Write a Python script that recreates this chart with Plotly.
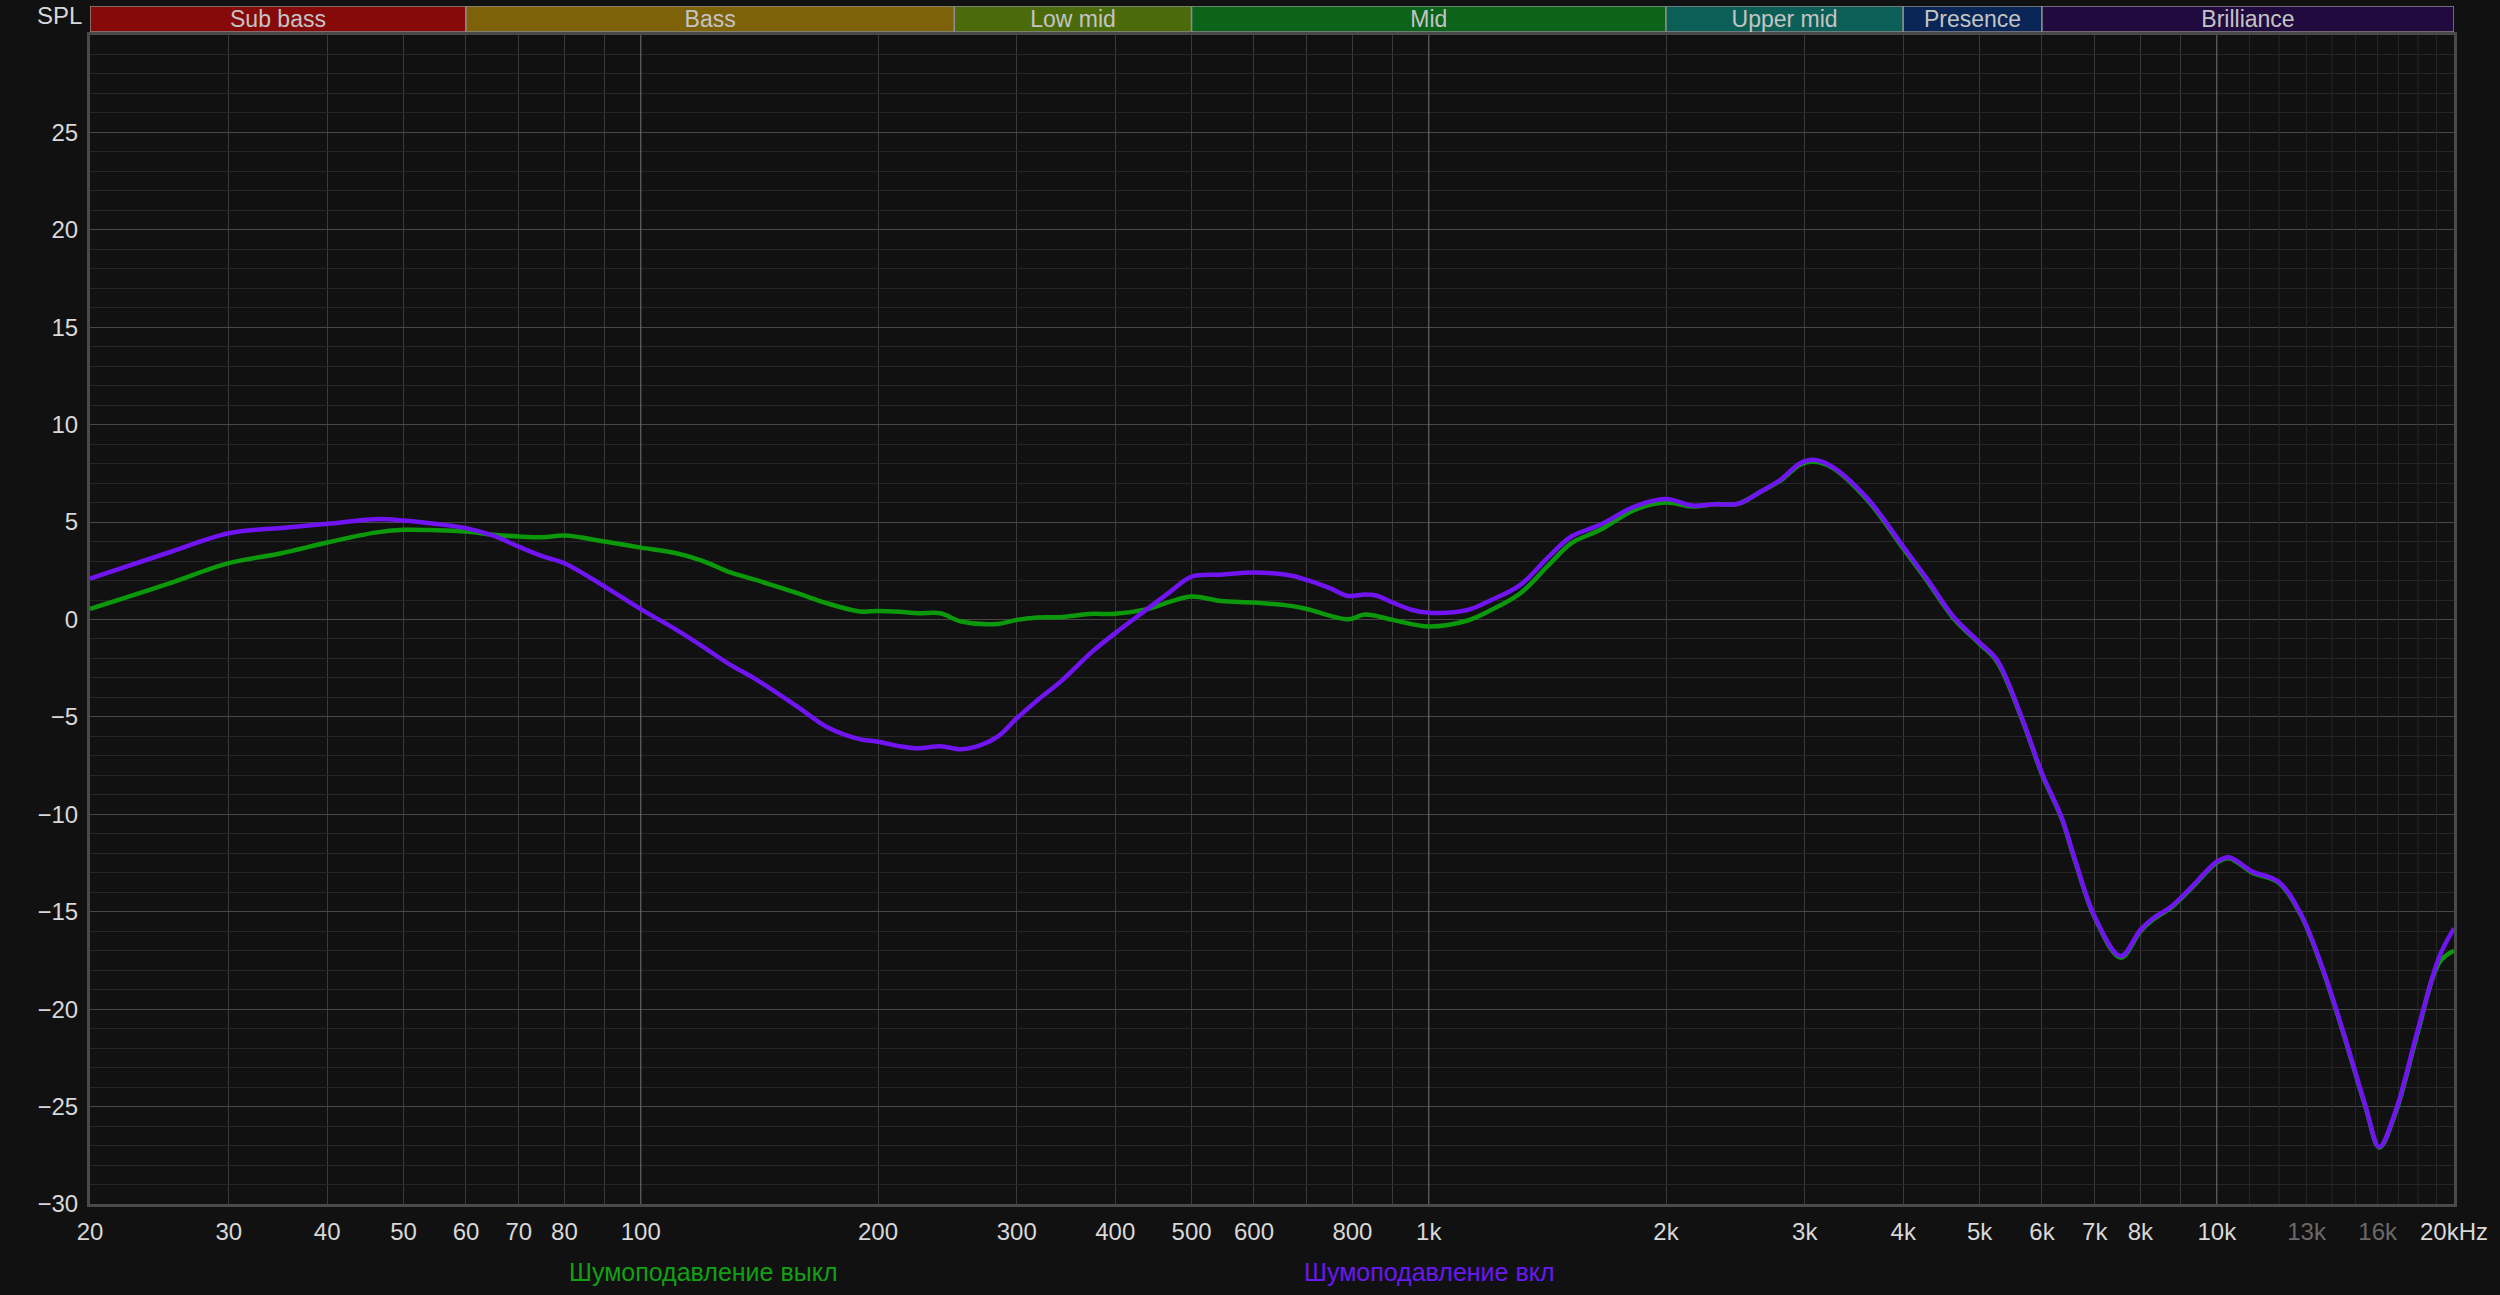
import numpy as np
import plotly.graph_objects as go

# ---------------- data ----------------
freq_on = [20, 25, 30, 35, 40, 46, 50, 55, 60, 65, 70, 75, 80, 90, 100, 111, 120, 129, 140, 158, 172,
           190, 200, 213, 225, 240, 255, 270, 284, 300, 319, 341, 374, 400, 439, 470, 500, 545, 600,
           668, 700, 750, 790, 830, 859, 900, 950, 1000, 1120, 1200, 1307, 1420, 1517, 1650, 1825,
           2000, 2160, 2307, 2470, 2640, 2800, 2960, 3090, 3250, 3600, 4000, 4290, 4630, 5000, 5260,
           5670, 6000, 6360, 6610, 7000, 7550, 8000, 8300, 8730, 9300, 10000, 10360, 11100, 11970,
           12770, 13600, 14490, 15450, 16080, 16880, 17990, 19160, 20000]
spl_on = [2.1, 3.4, 4.43, 4.7, 4.91, 5.15, 5.08, 4.9, 4.69, 4.3, 3.74, 3.25, 2.89, 1.69, 0.53, -0.53,
          -1.4, -2.25, -3.07, -4.47, -5.5, -6.15, -6.27, -6.5, -6.61, -6.5, -6.66, -6.45, -6.0, -5.07,
          -4.13, -3.19, -1.65, -0.7, 0.53, 1.43, 2.2, 2.3, 2.41, 2.26, 2.03, 1.6, 1.21, 1.28, 1.22,
          0.87, 0.5, 0.35, 0.49, 1.0, 1.78, 3.23, 4.26, 4.86, 5.8, 6.18, 5.85, 5.92, 5.94, 6.57, 7.2,
          8.02, 8.19, 7.85, 6.23, 3.74, 2.07, 0.15, -1.19, -2.07, -5.15, -7.89, -10.2, -12.34, -15.25,
          -17.27, -15.93, -15.33, -14.77, -13.71, -12.43, -12.2, -12.94, -13.45, -15.08, -17.82,
          -21.24, -25.0, -27.06, -25.17, -21.07, -17.3, -15.85]

freq_off = [20, 25, 30, 35, 40, 46, 50, 55, 60, 65, 70, 75, 80, 90, 100, 111, 120, 129, 140, 158, 172,
            190, 200, 213, 225, 240, 255, 284, 300, 319, 341, 374, 400, 439, 470, 500, 545, 600, 668,
            700, 790, 830, 900, 1000, 1120, 1200, 1307, 1420, 1517, 1650, 1825, 2000, 2160, 2307,
            2470, 2640, 2800, 2960, 3090, 3250, 3600, 4000, 4290, 4630, 5000, 5260, 5670, 6000, 6360,
            6610, 7000, 7550, 8000, 8300, 8730, 9300, 10000, 10360, 11100, 11970, 12770, 13600, 14490,
            15450, 16080, 16880, 17990, 19160, 20000]
spl_off = [0.54, 1.8, 2.89, 3.4, 3.95, 4.46, 4.6, 4.58, 4.51, 4.35, 4.26, 4.22, 4.31, 4.0, 3.69, 3.4,
           3.0, 2.46, 2.03, 1.35, 0.84, 0.41, 0.44, 0.4, 0.32, 0.32, -0.1, -0.23, -0.02, 0.1, 0.12,
           0.29, 0.29, 0.53, 0.92, 1.18, 0.95, 0.87, 0.7, 0.54, 0.01, 0.25, -0.02, -0.36, -0.05, 0.49,
           1.35, 2.8, 3.92, 4.6, 5.63, 6.0, 5.8, 5.92, 5.94, 6.57, 7.15, 7.95, 8.1, 7.8, 6.15, 3.65,
           1.98, 0.08, -1.25, -2.15, -5.2, -7.95, -10.25, -12.4, -15.3, -17.35, -16.0, -15.4, -14.82,
           -13.76, -12.48, -12.25, -13.0, -13.5, -15.13, -17.87, -21.3, -25.05, -27.1, -25.25, -21.2,
           -17.6, -17.0]

band_names = ["Sub bass", "Bass", "Low mid", "Mid", "Upper mid", "Presence", "Brilliance"]
band_edges = [20, 60, 250, 500, 2000, 4000, 6000, 20000]
band_colors = ["#870a0a", "#7e620a", "#4b6a0a", "#0b6419", "#0b5f56", "#0a2656", "#200a3e"]

tick_freqs = [20, 30, 40, 50, 60, 70, 80, 100, 200, 300, 400, 500, 600, 800, 1000, 2000, 3000, 4000,
              5000, 6000, 7000, 8000, 10000, 13000, 16000, 20000]
tick_text = ["20", "30", "40", "50", "60", "70", "80", "100", "200", "300", "400", "500", "600", "800",
             "1k", "2k", "3k", "4k", "5k", "6k", "7k", "8k", "10k", "13k", "16k", "20kHz"]
dim_ticks = ["13k", "16k"]

y_ticks = [-30, -25, -20, -15, -10, -5, 0, 5, 10, 15, 20, 25]

grid_freqs = [20, 30, 40, 50, 60, 70, 80, 90, 200, 300, 400, 500, 600, 700, 800, 900,
              2000, 3000, 4000, 5000, 6000, 7000, 8000, 9000]
bright_freqs = [100, 1000, 10000]
dim_freqs = [11000, 12000, 13000, 14000, 15000, 16000, 17000, 18000, 19000]

series_names = ["Шумоподавление выкл", "Шумоподавление вкл"]
GREEN = "#0b980b"
PURPLE = "#7014f2"

# ---------------- figure ----------------
BG = "#111111"
fig = go.Figure()

def vlines(freqs):
    xs, ys = [], []
    for f in freqs:
        xs += [f, f, None]
        ys += [-30, 30, None]
    return xs, ys

xs, ys = vlines(dim_freqs)
fig.add_trace(go.Scatter(x=xs, y=ys, mode="lines", line=dict(color="#272727", width=1),
                         hoverinfo="skip", showlegend=False))
xs, ys = vlines(bright_freqs)
fig.add_trace(go.Scatter(x=xs, y=ys, mode="lines", line=dict(color="#767676", width=1),
                         hoverinfo="skip", showlegend=False))

fig.add_trace(go.Scatter(x=freq_off, y=spl_off, mode="lines", name=series_names[0],
                         line=dict(color=GREEN, width=4.5, shape="spline", smoothing=1.0),
                         showlegend=False))
fig.add_trace(go.Scatter(x=freq_on, y=spl_on, mode="lines", name=series_names[1],
                         line=dict(color=PURPLE, width=4.5, shape="spline", smoothing=1.0),
                         showlegend=False))

# frequency band strip (second y axis on top)
for i, nm in enumerate(band_names):
    f0, f1 = band_edges[i], band_edges[i + 1]
    fig.add_trace(go.Scatter(x=[f0, f1, f1, f0, f0], y=[0, 0, 1, 1, 0], mode="lines",
                             fill="toself", fillcolor=band_colors[i],
                             line=dict(color="#8a8a8a", width=1.5), yaxis="y2",
                             hoverinfo="skip", showlegend=False))
    fig.add_trace(go.Scatter(x=[float(np.sqrt(f0 * f1))], y=[0.42], mode="text", text=[nm],
                             textfont=dict(family="Liberation Sans, Arial", size=23, color="#c4c4c4"),
                             yaxis="y2", cliponaxis=False, hoverinfo="skip", showlegend=False))

tick_labels = [f'<span style="color:#6a6a6a">{t}</span>' if t in dim_ticks else t for t in tick_text]

fig.update_layout(
    width=2500, height=1295,
    paper_bgcolor=BG, plot_bgcolor=BG,
    margin=dict(l=90, r=46, t=6, b=91),
    font=dict(family="Liberation Sans, Arial", size=24, color="#d8d8d8"),
    xaxis=dict(type="log", range=[np.log10(20), np.log10(20000)], tickmode="array",
               tickvals=tick_freqs, ticktext=tick_labels, showgrid=False, zeroline=False,
               showline=True, mirror=True, linecolor="#4a4a4a", linewidth=3,
               ticks="outside", ticklen=4, tickcolor=BG,
               tickfont=dict(size=24, color="#d8d8d8"),
               minor=dict(tickmode="array", tickvals=grid_freqs, showgrid=True,
                          gridcolor="#3a3a3a", gridwidth=1, ticks=""),
               anchor="y", automargin=False),
    yaxis=dict(range=[-30, 30], domain=[0, 0.9758], tickmode="array", tickvals=y_ticks,
               showgrid=True, gridcolor="#474747", gridwidth=1, zeroline=False,
               showline=True, mirror=True, linecolor="#4a4a4a", linewidth=3,
               ticks="outside", ticklen=4, tickcolor=BG,
               tickfont=dict(size=24, color="#d8d8d8"),
               minor=dict(dtick=1, showgrid=True, gridcolor="#262626", gridwidth=1, ticks=""),
               automargin=False),
    yaxis2=dict(range=[0, 1], domain=[0.9783, 1.0], showgrid=False, zeroline=False,
                showticklabels=False, showline=False, anchor="x", fixedrange=True),
    showlegend=False,
)

fig.add_annotation(text="SPL", xref="paper", yref="paper", x=0, y=1, xanchor="right",
                   yanchor="middle", xshift=-6, yshift=-9, showarrow=False,
                   font=dict(size=24, color="#d8d8d8"))
fig.add_annotation(text=series_names[0], xref="paper", yref="paper", x=0.2593, y=0,
                   yshift=-68, xanchor="center", yanchor="middle", showarrow=False,
                   font=dict(size=25, color="#13a013"))
fig.add_annotation(text=series_names[1], xref="paper", yref="paper", x=0.5668, y=0,
                   yshift=-68, xanchor="center", yanchor="middle", showarrow=False,
                   font=dict(size=25, color="#6a18f2"))

fig.write_html("out.html", config={"displayModeBar": False},
               post_script="document.body.style.margin='0px';")
